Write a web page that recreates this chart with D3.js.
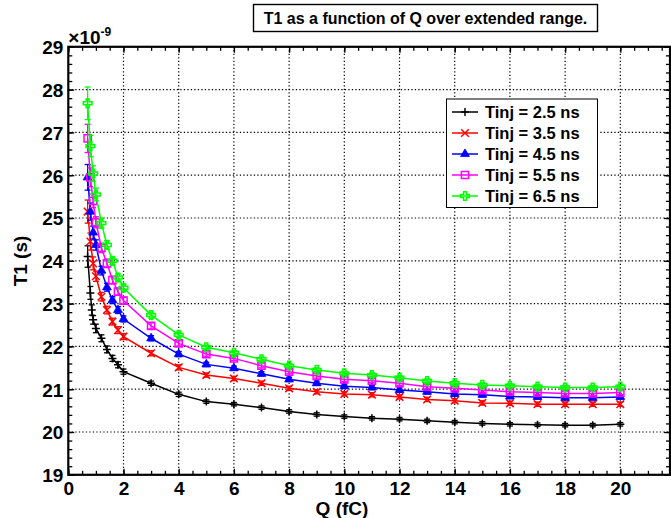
<!DOCTYPE html>
<html><head><meta charset="utf-8">
<script src="https://cdn.jsdelivr.net/npm/d3@7/dist/d3.min.js"></script>
<style>body{margin:0;background:#fff}svg{display:block}text{font-family:"Liberation Sans",Arial,sans-serif;font-weight:bold}</style>
</head><body>
<script>
// ---- data (T1 in units of 1e-9 s, Q in fC) ----
const qBlack = [0.7,0.8,0.85,0.9,1.0,1.2,1.4,1.6,1.8,2,3,4,5,6,7,8,9,10,11,12,13,14,15,16,17,18,19,20];
const qColor = [0.7,0.8,0.9,1.0,1.2,1.4,1.6,1.8,2,3,4,5,6,7,8,9,10,11,12,13,14,15,16,17,18,19,20];
const t1_25 = [24.1,23.25,22.85,22.62,22.42,22.19,21.93,21.72,21.57,21.41,21.14,20.88,20.71,20.65,20.57,20.48,20.41,20.36,20.32,20.30,20.26,20.23,20.20,20.18,20.17,20.16,20.16,20.18];
const t1_35 = [25.15,24.45,23.94,23.64,23.16,22.85,22.58,22.38,22.23,21.84,21.51,21.33,21.25,21.14,21.02,20.94,20.89,20.87,20.82,20.76,20.73,20.68,20.67,20.65,20.65,20.65,20.65];
const t1_45 = [25.95,25.15,24.66,24.37,23.77,23.38,23.08,22.85,22.64,22.19,21.82,21.58,21.49,21.36,21.23,21.14,21.07,21.04,20.98,20.94,20.89,20.87,20.83,20.82,20.80,20.80,20.82];
const t1_55 = [26.86,25.95,25.40,24.90,24.30,23.94,23.55,23.28,23.07,22.48,22.07,21.82,21.72,21.55,21.41,21.31,21.23,21.20,21.14,21.06,21.02,20.98,20.94,20.92,20.90,20.90,20.92];
const t1_65 = [27.68,26.68,26.04,25.55,24.88,24.37,24.00,23.61,23.37,22.73,22.27,21.98,21.85,21.70,21.55,21.45,21.37,21.33,21.27,21.19,21.14,21.10,21.08,21.06,21.04,21.04,21.06];
const err_25 = [0.25,0.15,0.12,0.1,0.1,0.08,0.08,0.07,0.07,0.06,0.05,0.05,0.04,0.04,0.04,0.04,0.04,0.04,0.04,0.04,0.04,0.04,0.04,0.04,0.04,0.04,0.04,0.04];
const err_35 = [0.27,0.2,0.15,0.12,0.1,0.09,0.08,0.08,0.07,0.06,0.06,0.05,0.05,0.05,0.05,0.05,0.05,0.05,0.05,0.05,0.05,0.05,0.05,0.05,0.05,0.05,0.05];
const err_45 = [0.3,0.2,0.15,0.12,0.1,0.09,0.08,0.08,0.07,0.06,0.06,0.05,0.05,0.05,0.05,0.05,0.05,0.05,0.05,0.05,0.05,0.05,0.05,0.05,0.05,0.05,0.05];
const err_55 = [0.33,0.22,0.16,0.13,0.11,0.1,0.09,0.08,0.08,0.07,0.06,0.05,0.05,0.05,0.05,0.05,0.05,0.05,0.05,0.05,0.05,0.05,0.05,0.05,0.05,0.05,0.05];
const err_65 = [0.38,0.25,0.18,0.15,0.12,0.1,0.09,0.08,0.08,0.07,0.06,0.05,0.05,0.05,0.05,0.05,0.05,0.05,0.05,0.05,0.05,0.05,0.05,0.05,0.05,0.05,0.05];
const seriesNames = ["Tinj = 2.5 ns","Tinj = 3.5 ns","Tinj = 4.5 ns","Tinj = 5.5 ns","Tinj = 6.5 ns"];
const seriesColors = ["#000000","#ff0000","#0000ff","#ff00ff","#00ff00"];
const seriesMarkers = ["plus","x","triangle","square","cross"];
const xTicks = [0,2,4,6,8,10,12,14,16,18,20];
const yTicks = [19,20,21,22,23,24,25,26,27,28,29];
const titleText = "T1 as a function of Q over extended range.";

const series = [
  {q:qBlack, t:t1_25, e:err_25},
  {q:qColor, t:t1_35, e:err_35},
  {q:qColor, t:t1_45, e:err_45},
  {q:qColor, t:t1_55, e:err_55},
  {q:qColor, t:t1_65, e:err_65}
].map((s,i)=>({...s,name:seriesNames[i],color:seriesColors[i],marker:seriesMarkers[i]}));

const W=671,H=518;
const L=68.3,R=670,T=46.8,B=474.8;
const svg=d3.select("body").append("svg").attr("width",W).attr("height",H);
const x=d3.scaleLinear().domain([0,21.8]).range([L,R]);
const y=d3.scaleLinear().domain([19,29]).range([B,T]);

// grid
const g=svg.append("g");
g.selectAll(".vg").data(xTicks.filter(v=>v>0)).join("line")
  .attr("x1",d=>x(d)).attr("x2",d=>x(d)).attr("y1",T).attr("y2",B)
  .attr("stroke","#000").attr("stroke-width",1.2).attr("stroke-dasharray","1.3,2.2");
g.selectAll(".hg").data(yTicks.filter(v=>v>19&&v<29)).join("line")
  .attr("x1",L).attr("x2",R).attr("y1",d=>y(d)).attr("y2",d=>y(d))
  .attr("stroke","#000").attr("stroke-width",1.2).attr("stroke-dasharray","1.3,2.2");

// axes with inward ticks
const xMinor=d3.range(0,21.81,0.5), yMinor=d3.range(19,29.001,0.2);
const axB=d3.axisBottom(x).tickValues(xMinor).tickSize(-4).tickFormat("");
const axT=d3.axisTop(x).tickValues(xMinor).tickSize(-4).tickFormat("");
const axL=d3.axisLeft(y).tickValues(yMinor).tickSize(-4).tickFormat("");
const axR=d3.axisRight(y).tickValues(yMinor).tickSize(-4).tickFormat("");
const axB2=d3.axisBottom(x).tickValues(xTicks).tickSize(-6).tickFormat(d3.format("d"));
const axT2=d3.axisTop(x).tickValues(xTicks).tickSize(-6).tickFormat("");
const axL2=d3.axisLeft(y).tickValues(yTicks).tickSize(-6).tickFormat(d3.format("d"));
const axR2=d3.axisRight(y).tickValues(yTicks).tickSize(-6).tickFormat("");
function styleAx(sel){sel.select(".domain").remove();sel.selectAll("line").attr("stroke","#000").attr("stroke-width",1.3);}
svg.append("g").attr("transform",`translate(0,${B})`).call(axB).call(styleAx);
svg.append("g").attr("transform",`translate(0,${T})`).call(axT).call(styleAx);
svg.append("g").attr("transform",`translate(${L},0)`).call(axL).call(styleAx);
svg.append("g").attr("transform",`translate(${R},0)`).call(axR).call(styleAx);
const gxb=svg.append("g").attr("transform",`translate(0,${B})`).call(axB2).call(styleAx);
gxb.selectAll("text").attr("font-size",19).attr("fill","#000").attr("dy",0).attr("y",20);
svg.append("g").attr("transform",`translate(0,${T})`).call(axT2).call(styleAx);
const gyl=svg.append("g").attr("transform",`translate(${L},0)`).call(axL2).call(styleAx);
gyl.selectAll("text").attr("font-size",19).attr("fill","#000").attr("x",-5).attr("dy","0.36em");
svg.append("g").attr("transform",`translate(${R},0)`).call(axR2).call(styleAx);
// frame
svg.append("rect").attr("x",L).attr("y",T).attr("width",R-L).attr("height",B-T)
  .attr("fill","none").attr("stroke","#000").attr("stroke-width",2.2);

// exponent label
const ex=svg.append("text").attr("x",L).attr("y",44).attr("font-size",19).attr("font-weight","normal");
ex.append("tspan").text("\u00d710");
ex.append("tspan").attr("font-size",12).attr("dy",-8).text("-9");

// marker paths
function markerPath(m){
  switch(m){
    case "plus": return "M-4,0H4M0,-4V4";
    case "x": return "M-3.8,-3.8L3.8,3.8M-3.8,3.8L3.8,-3.8";
    case "triangle": return d3.symbol(d3.symbolTriangle,34)();
    case "square": return "M-3.6,-3.6H3.6V3.6H-3.6Z";
    case "cross": return d3.symbol(d3.symbolCross,42)();
  }
}
function drawMarker(sel,s){
  sel.attr("d",markerPath(s.marker)).attr("stroke",s.color)
    .attr("stroke-width",s.marker==="triangle"?0.8:1.5)
    .attr("fill",s.marker==="triangle"?s.color:"none");
}

const line=d3.line().x(d=>x(d.q)).y(d=>y(d.t));
const plot=svg.append("g");
series.forEach(s=>{
  const pts=s.q.map((q,i)=>({q,t:s.t[i],e:s.e[i]}));
  const gs=plot.append("g");
  gs.append("path").datum(pts).attr("d",line).attr("fill","none").attr("stroke",s.color).attr("stroke-width",1.5);
  const eb=gs.selectAll(".eb").data(pts).join("g");
  eb.append("line").attr("x1",d=>x(d.q)).attr("x2",d=>x(d.q)).attr("y1",d=>y(d.t-d.e)).attr("y2",d=>y(d.t+d.e)).attr("stroke",s.color).attr("stroke-width",1.3);
  eb.append("line").attr("x1",d=>x(d.q)-3).attr("x2",d=>x(d.q)+3).attr("y1",d=>y(d.t+d.e)).attr("y2",d=>y(d.t+d.e)).attr("stroke",s.color).attr("stroke-width",1.3);
  eb.append("line").attr("x1",d=>x(d.q)-3).attr("x2",d=>x(d.q)+3).attr("y1",d=>y(d.t-d.e)).attr("y2",d=>y(d.t-d.e)).attr("stroke",s.color).attr("stroke-width",1.3);
  gs.selectAll(".mk").data(pts).join("path").attr("transform",d=>`translate(${x(d.q)},${y(d.t)})`).call(sel=>drawMarker(sel,s));
});

// legend
const lg=svg.append("g");
lg.append("rect").attr("x",446.5).attr("y",99).attr("width",151).attr("height",108.5).attr("fill","#fff").attr("stroke","#000").attr("stroke-width",1);
series.forEach((s,i)=>{
  const yy=112+i*21;
  lg.append("line").attr("x1",452).attr("x2",478).attr("y1",yy).attr("y2",yy).attr("stroke",s.color).attr("stroke-width",1.5);
  lg.append("path").attr("transform",`translate(465,${yy})`).call(sel=>drawMarker(sel,s));
  lg.append("text").attr("x",485).attr("y",yy).attr("dy","0.36em").attr("font-size",16.5).text(s.name);
});

// title
svg.append("rect").attr("x",253.5).attr("y",4.5).attr("width",344).attr("height",27).attr("fill","#fff").attr("stroke","#000").attr("stroke-width",1.4);
svg.append("text").attr("x",425.5).attr("y",24).attr("text-anchor","middle").attr("font-size",16).text(titleText);

// axis labels
svg.append("text").attr("x",342).attr("y",515).attr("text-anchor","middle").attr("font-size",19).text("Q (fC)");
svg.append("text").attr("transform",`translate(27,261) rotate(-90)`).attr("text-anchor","middle").attr("font-size",19).text("T1 (s)");
</script>
</body></html>
